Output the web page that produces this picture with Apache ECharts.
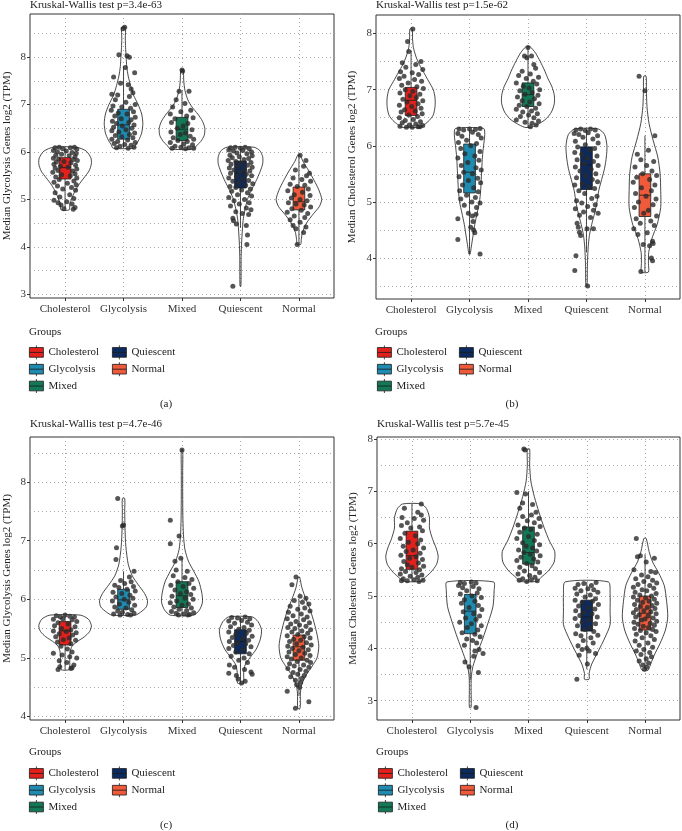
<!DOCTYPE html>
<html>
<head>
<meta charset="utf-8">
<script src="https://cdn.jsdelivr.net/npm/echarts@6/dist/echarts.min.js"></script>
<style>
  html, body { margin: 0; padding: 0; background: #fff; }
  #chart { width: 682px; height: 831px; }
</style>
</head>
<body>
<div id="chart"></div>
<script>
const groups = ['Cholesterol', 'Glycolysis', 'Mixed', 'Quiescent', 'Normal'];
const groupColors = ['#E3211C', '#1F8BB0', '#127857', '#0C2A5E', '#EF5A3B'];
const xTicks = [1, 2, 3, 4, 5];
const panelTags = ['(a)', '(b)', '(c)', '(d)'];
const pValues = ['3.4e-63', '1.5e-62', '4.7e-46', '5.7e-45'];
const yNames = [
  'Median Glycolysis Genes log2 (TPM)',
  'Median Cholesterol Genes log2 (TPM)',
  'Median Glycolysis Genes log2 (TPM)',
  'Median Cholesterol Genes log2 (TPM)'
];
const yRanges = [[2.92, 8.91], [3.27, 8.33], [3.94, 8.77], [2.63, 8.04]];
const yTicks = [[3, 4, 5, 6, 7, 8], [4, 5, 6, 7, 8], [4, 5, 6, 7, 8], [3, 4, 5, 6, 7, 8]];
const yMinorTicks = [[3.5, 4.5, 5.5, 6.5, 7.5, 8.5], [3.5, 4.5, 5.5, 6.5, 7.5], [4.5, 5.5, 6.5, 7.5, 8.5], [3.5, 4.5, 5.5, 6.5, 7.5]];

// boxplot stats per group: [lower whisker, q1, median, q3, upper whisker]
const boxA = [[4.8, 5.43, 5.67, 5.88, 6.1], [6.08, 6.27, 6.57, 6.9, 7.8], [6.06, 6.24, 6.48, 6.73, 7.3], [4.4, 5.24, 5.55, 5.81, 6.1], [4.05, 4.78, 4.95, 5.26, 5.93]];
const boxB = [[6.33, 6.54, 6.81, 7.04, 7.7], [4.07, 5.16, 5.53, 6.03, 6.31], [6.33, 6.7, 6.91, 7.12, 7.76], [4.1, 5.22, 5.66, 5.98, 6.3], [3.75, 4.74, 5.12, 5.5, 6.18]];
const boxC = [[4.8, 5.22, 5.46, 5.62, 5.73], [5.73, 5.83, 5.99, 6.17, 6.48], [5.73, 5.86, 6.06, 6.3, 6.7], [4.57, 5.07, 5.28, 5.48, 5.7], [4.35, 4.96, 5.19, 5.39, 6.0]];
const boxD = [[5.28, 5.51, 5.77, 6.24, 6.76], [3.4, 4.28, 4.71, 5.03, 5.27], [5.28, 5.61, 5.83, 6.32, 7.0], [3.6, 4.33, 4.6, 4.92, 5.27], [3.6, 4.35, 4.67, 5.0, 5.8]];

// violin outlines: [value, half width] from top to bottom
const violinA = [
  [[6.1, 0.2], [6.02, 0.36], [5.88, 0.44], [5.75, 0.45], [5.6, 0.41], [5.45, 0.32], [5.3, 0.23], [5.15, 0.16], [5.0, 0.11], [4.9, 0.08], [4.78, 0.07]],
  [[8.63, 0.03], [8.4, 0.03], [8.2, 0.035], [8.0, 0.045], [7.8, 0.055], [7.6, 0.08], [7.4, 0.12], [7.2, 0.17], [7.0, 0.25], [6.8, 0.31], [6.6, 0.33], [6.4, 0.31], [6.25, 0.26], [6.15, 0.21], [6.08, 0.18]],
  [[7.73, 0.02], [7.5, 0.03], [7.3, 0.05], [7.1, 0.1], [6.95, 0.17], [6.8, 0.27], [6.65, 0.35], [6.5, 0.39], [6.35, 0.38], [6.22, 0.32], [6.12, 0.24], [6.06, 0.2]],
  [[6.1, 0.23], [6.03, 0.33], [5.9, 0.38], [5.75, 0.38], [5.6, 0.34], [5.45, 0.29], [5.3, 0.23], [5.15, 0.17], [5.0, 0.12], [4.8, 0.08], [4.6, 0.05], [4.4, 0.035], [4.1, 0.02], [3.8, 0.012], [3.17, 0.008]],
  [[5.93, 0.02], [5.8, 0.07], [5.6, 0.17], [5.4, 0.26], [5.2, 0.34], [5.0, 0.39], [4.85, 0.35], [4.7, 0.25], [4.5, 0.13], [4.3, 0.06], [4.15, 0.04], [4.05, 0.03]]
];
const violinB = [
  [[8.08, 0.02], [7.9, 0.025], [7.75, 0.04], [7.6, 0.08], [7.45, 0.14], [7.3, 0.22], [7.15, 0.3], [7.0, 0.38], [6.85, 0.41], [6.7, 0.41], [6.55, 0.38], [6.45, 0.31], [6.38, 0.23], [6.33, 0.16]],
  [[6.31, 0.24], [6.2, 0.26], [6.0, 0.24], [5.8, 0.22], [5.6, 0.21], [5.4, 0.2], [5.2, 0.19], [5.0, 0.17], [4.8, 0.13], [4.6, 0.09], [4.4, 0.06], [4.2, 0.03], [4.07, 0.01]],
  [[7.76, 0.04], [7.65, 0.13], [7.5, 0.21], [7.35, 0.28], [7.2, 0.34], [7.05, 0.41], [6.9, 0.45], [6.75, 0.45], [6.6, 0.4], [6.48, 0.31], [6.4, 0.2], [6.33, 0.06]],
  [[6.3, 0.2], [6.2, 0.31], [6.0, 0.35], [5.8, 0.34], [5.6, 0.31], [5.4, 0.26], [5.2, 0.21], [5.0, 0.18], [4.8, 0.14], [4.6, 0.09], [4.4, 0.05], [4.2, 0.03], [4.0, 0.02], [3.8, 0.015], [3.5, 0.01]],
  [[7.24, 0.02], [7.0, 0.025], [6.7, 0.035], [6.4, 0.07], [6.1, 0.14], [5.8, 0.22], [5.5, 0.26], [5.2, 0.27], [4.9, 0.27], [4.6, 0.21], [4.35, 0.12], [4.1, 0.065], [3.9, 0.06], [3.75, 0.06]]
];
const violinC = [
  [[5.73, 0.26], [5.66, 0.4], [5.55, 0.45], [5.45, 0.42], [5.36, 0.33], [5.28, 0.21], [5.2, 0.12], [5.1, 0.085], [5.0, 0.08], [4.9, 0.08], [4.8, 0.07]],
  [[7.72, 0.02], [7.5, 0.02], [7.2, 0.025], [6.9, 0.04], [6.6, 0.08], [6.4, 0.15], [6.25, 0.25], [6.1, 0.36], [5.98, 0.41], [5.87, 0.39], [5.78, 0.29], [5.73, 0.2]],
  [[8.55, 0.012], [8.2, 0.012], [7.8, 0.012], [7.4, 0.015], [7.1, 0.025], [6.85, 0.05], [6.65, 0.11], [6.48, 0.2], [6.3, 0.29], [6.1, 0.34], [5.95, 0.35], [5.82, 0.3], [5.73, 0.2]],
  [[5.7, 0.2], [5.62, 0.3], [5.48, 0.36], [5.32, 0.34], [5.15, 0.27], [5.0, 0.16], [4.88, 0.08], [4.75, 0.055], [4.57, 0.05]],
  [[6.38, 0.012], [6.2, 0.05], [6.0, 0.12], [5.8, 0.2], [5.6, 0.26], [5.4, 0.31], [5.2, 0.34], [5.0, 0.31], [4.85, 0.22], [4.7, 0.12], [4.55, 0.05], [4.4, 0.025], [4.14, 0.02]]
];
const violinD = [
  [[6.76, 0.16], [6.67, 0.25], [6.5, 0.3], [6.3, 0.3], [6.1, 0.35], [5.9, 0.42], [5.75, 0.45], [5.6, 0.42], [5.45, 0.32], [5.34, 0.21], [5.28, 0.15]],
  [[5.27, 0.4], [5.1, 0.41], [4.8, 0.39], [4.5, 0.31], [4.2, 0.22], [3.9, 0.12], [3.65, 0.045], [3.45, 0.018], [3.2, 0.015], [2.87, 0.015]],
  [[7.81, 0.02], [7.5, 0.02], [7.2, 0.04], [6.9, 0.1], [6.6, 0.18], [6.3, 0.27], [6.05, 0.36], [5.85, 0.45], [5.65, 0.44], [5.48, 0.34], [5.35, 0.21], [5.28, 0.15]],
  [[5.27, 0.37], [5.05, 0.4], [4.7, 0.4], [4.45, 0.4], [4.2, 0.31], [3.95, 0.2], [3.7, 0.085], [3.52, 0.04], [3.41, 0.04]],
  [[6.1, 0.02], [5.85, 0.07], [5.65, 0.13], [5.45, 0.23], [5.2, 0.33], [4.9, 0.37], [4.6, 0.39], [4.35, 0.35], [4.1, 0.26], [3.85, 0.15], [3.65, 0.08], [3.58, 0.05]]
];

// jittered samples: [offset from group, value]
const pointsA = [
  [[-0.17,6.09],[-0.1,6.1],[-0.04,6.07],[0.09,6.09],[0.16,6.1],[0.2,6.06],[-0.2,6.03],[-0.13,6.0],[0.02,6.02],[0.12,5.99],[0.19,5.97],[-0.16,5.93],[-0.06,5.95],[0.07,5.92],[0.17,5.9],[-0.2,5.87],[-0.11,5.85],[0.14,5.84],[0.21,5.82],[-0.15,5.79],[-0.02,5.8],[0.1,5.77],[-0.19,5.74],[0.18,5.72],[-0.08,5.7],[0.05,5.68],[-0.17,5.66],[0.2,5.64],[-0.12,5.61],[0.13,5.6],[-0.21,5.57],[0.17,5.54],[-0.06,5.52],[0.09,5.5],[-0.16,5.47],[0.2,5.45],[-0.1,5.42],[0.15,5.39],[-0.19,5.36],[0.04,5.34],[0.19,5.31],[-0.13,5.28],[0.11,5.25],[-0.04,5.22],[0.18,5.19],[-0.17,5.14],[0.08,5.1],[-0.09,5.05],[0.15,5.02],[-0.19,4.98],[-0.12,4.93],[0.03,4.95],[-0.07,4.88],[0.12,4.9],[0.17,4.83],[-0.02,4.8],[0.14,4.79]],
  [[0.02,8.63],[-0.01,8.6],[-0.08,8.05],[0.06,8.03],[0.1,8.0],[0.03,7.78],[0.19,7.67],[-0.17,7.58],[-0.05,7.45],[0.08,7.42],[0.13,7.33],[-0.2,7.22],[-0.1,7.2],[0.1,7.17],[0.16,7.25],[-0.14,7.1],[0.04,7.05],[0.2,7.0],[-0.18,6.97],[-0.03,6.95],[0.12,6.92],[-0.21,6.88],[0.17,6.85],[-0.09,6.82],[0.06,6.8],[-0.15,6.76],[0.2,6.73],[-0.04,6.7],[0.13,6.68],[-0.19,6.65],[0.09,6.62],[-0.12,6.6],[0.18,6.57],[-0.02,6.55],[-0.17,6.52],[0.14,6.5],[0.04,6.47],[-0.2,6.45],[-0.08,6.42],[0.19,6.4],[0.1,6.37],[-0.14,6.35],[-0.03,6.32],[0.16,6.3],[-0.2,6.27],[0.07,6.25],[-0.1,6.22],[0.2,6.2],[-0.16,6.18],[0.02,6.16],[0.13,6.14],[-0.06,6.12],[0.18,6.1],[-0.12,6.09],[0.08,6.08]],
  [[0.0,7.73],[0.01,7.7],[-0.05,7.28],[0.12,7.28],[-0.1,7.1],[0.05,7.02],[-0.16,6.95],[0.15,6.88],[-0.02,6.85],[-0.2,6.8],[0.08,6.76],[0.19,6.72],[-0.12,6.7],[-0.18,6.62],[0.1,6.6],[0.02,6.55],[-0.08,6.5],[0.17,6.47],[-0.19,6.42],[0.06,6.4],[-0.03,6.37],[0.14,6.33],[-0.15,6.3],[0.2,6.27],[-0.07,6.24],[0.09,6.22],[-0.2,6.2],[0.03,6.17],[0.18,6.15],[-0.12,6.12],[-0.02,6.1],[0.12,6.09],[-0.17,6.08],[0.06,6.07],[0.2,6.08]],
  [[-0.17,6.09],[-0.09,6.1],[0.0,6.08],[0.08,6.1],[0.15,6.07],[-0.2,6.04],[-0.12,6.02],[0.04,6.03],[0.19,6.0],[-0.06,5.98],[0.11,5.96],[-0.18,5.93],[0.2,5.92],[-0.02,5.9],[-0.14,5.88],[0.14,5.86],[0.06,5.84],[-0.21,5.82],[-0.08,5.8],[0.18,5.78],[0.01,5.76],[-0.16,5.74],[0.12,5.72],[-0.04,5.7],[0.2,5.68],[-0.19,5.66],[0.07,5.64],[-0.11,5.62],[0.16,5.6],[-0.01,5.58],[-0.17,5.55],[0.1,5.53],[0.19,5.5],[-0.07,5.48],[-0.2,5.45],[0.04,5.43],[0.14,5.4],[-0.13,5.38],[-0.03,5.35],[0.21,5.33],[0.09,5.3],[-0.18,5.27],[-0.08,5.25],[0.17,5.22],[0.02,5.2],[-0.15,5.17],[0.12,5.14],[-0.05,5.1],[0.19,5.07],[-0.2,5.04],[0.07,5.0],[-0.11,4.97],[0.15,4.93],[-0.02,4.9],[-0.17,4.86],[0.1,4.82],[0.18,4.78],[-0.08,4.74],[0.03,4.7],[0.14,4.68],[-0.13,4.6],[-0.12,4.55],[-0.07,4.48],[0.1,4.45],[0.12,4.25],[0.11,4.05],[-0.13,3.17]],
  [[0.02,5.93],[0.12,5.82],[0.08,5.7],[-0.06,5.62],[0.18,5.55],[0.13,5.5],[-0.1,5.45],[0.05,5.42],[0.2,5.38],[-0.15,5.32],[0.1,5.3],[-0.03,5.27],[0.16,5.22],[-0.19,5.18],[0.06,5.15],[-0.08,5.1],[0.19,5.08],[-0.13,5.03],[0.02,5.0],[0.14,4.97],[-0.18,4.93],[-0.05,4.9],[0.09,4.88],[0.2,4.84],[-0.12,4.8],[0.04,4.77],[-0.2,4.73],[0.15,4.7],[-0.08,4.65],[0.1,4.62],[-0.15,4.57],[0.02,4.52],[-0.1,4.45],[0.12,4.42],[-0.05,4.38],[0.08,4.3],[-0.03,4.05]]
];
const pointsB = [
  [[0.03,8.08],[-0.06,7.86],[-0.04,7.68],[0.17,7.5],[-0.15,7.48],[0.08,7.45],[-0.09,7.4],[0.2,7.36],[-0.18,7.32],[0.02,7.3],[0.13,7.27],[-0.12,7.24],[-0.2,7.2],[0.06,7.18],[0.18,7.15],[-0.05,7.12],[-0.16,7.08],[0.1,7.05],[0.21,7.02],[-0.1,7.0],[0.03,6.97],[-0.19,6.94],[0.15,6.92],[-0.02,6.89],[0.09,6.86],[-0.14,6.83],[0.2,6.8],[-0.07,6.78],[0.12,6.75],[-0.2,6.72],[0.01,6.7],[0.17,6.67],[-0.11,6.64],[0.07,6.62],[-0.17,6.6],[0.19,6.57],[-0.04,6.55],[0.11,6.52],[-0.2,6.5],[0.04,6.47],[-0.1,6.45],[0.16,6.43],[-0.15,6.41],[0.08,6.39],[-0.03,6.37],[0.2,6.36],[-0.19,6.35],[0.12,6.34],[-0.08,6.33],[0.02,6.33],[0.15,6.34]],
  [[-0.18,6.3],[-0.1,6.28],[0.0,6.3],[0.1,6.29],[0.18,6.31],[-0.2,6.22],[0.05,6.24],[0.15,6.2],[-0.13,6.17],[0.2,6.14],[-0.05,6.1],[-0.19,6.06],[0.12,6.04],[0.02,6.0],[-0.15,5.95],[0.18,5.9],[-0.08,5.86],[0.09,5.82],[-0.2,5.78],[0.16,5.74],[-0.03,5.7],[-0.14,5.65],[0.11,5.61],[0.2,5.57],[-0.1,5.53],[0.05,5.5],[-0.18,5.45],[0.14,5.42],[-0.02,5.38],[0.19,5.34],[-0.12,5.3],[0.07,5.25],[-0.17,5.2],[0.15,5.18],[-0.05,5.12],[0.1,5.08],[-0.15,5.05],[0.04,5.0],[0.18,4.98],[-0.09,4.94],[0.12,4.9],[-0.02,4.8],[0.11,4.78],[0.05,4.75],[-0.2,4.7],[0.06,4.65],[0.02,4.55],[0.07,4.5],[0.09,4.45],[-0.2,4.33],[0.18,4.07]],
  [[0.0,7.75],[-0.06,7.6],[-0.02,7.57],[0.06,7.6],[0.1,7.45],[-0.1,7.33],[0.13,7.38],[0.04,7.28],[-0.16,7.25],[0.18,7.22],[-0.03,7.2],[0.09,7.15],[-0.2,7.12],[0.15,7.1],[-0.08,7.06],[0.02,7.03],[0.2,7.0],[-0.14,6.98],[0.07,6.95],[-0.05,6.92],[0.17,6.9],[-0.18,6.87],[0.11,6.84],[-0.1,6.8],[0.03,6.78],[0.19,6.75],[-0.15,6.72],[-0.02,6.7],[0.13,6.67],[-0.2,6.65],[0.06,6.62],[-0.09,6.6],[0.16,6.57],[0.01,6.55],[-0.13,6.52],[0.1,6.5],[-0.2,6.46],[0.18,6.44],[-0.05,6.42],[0.07,6.4],[0.14,6.37],[0.04,6.34]],
  [[-0.18,6.28],[-0.1,6.3],[-0.02,6.27],[0.07,6.3],[0.15,6.28],[-0.21,6.22],[-0.13,6.2],[0.03,6.23],[0.19,6.18],[-0.06,6.15],[0.11,6.12],[-0.19,6.08],[0.2,6.05],[-0.02,6.02],[-0.15,5.98],[0.14,5.95],[0.06,5.92],[-0.2,5.88],[-0.08,5.85],[0.18,5.82],[0.01,5.78],[-0.16,5.75],[0.12,5.72],[-0.04,5.68],[0.2,5.65],[-0.19,5.62],[0.08,5.58],[-0.11,5.55],[0.16,5.5],[-0.01,5.47],[-0.17,5.43],[0.1,5.4],[0.19,5.36],[-0.07,5.33],[-0.2,5.3],[0.04,5.27],[0.14,5.24],[-0.13,5.2],[-0.03,5.15],[0.18,5.1],[0.09,5.06],[-0.17,5.02],[-0.08,4.98],[0.15,4.95],[0.02,4.92],[-0.19,4.88],[0.12,4.85],[-0.05,4.82],[0.2,4.8],[-0.12,4.76],[0.07,4.72],[-0.16,4.62],[-0.14,4.55],[0.12,4.52],[-0.12,4.46],[0.01,4.52],[-0.1,4.4],[-0.18,4.04],[-0.2,3.78],[0.02,3.5]],
  [[-0.1,7.24],[0.0,6.98],[0.17,6.18],[0.06,5.92],[-0.13,5.85],[-0.07,5.75],[0.15,5.72],[0.03,5.65],[-0.17,5.62],[0.12,5.55],[-0.04,5.5],[0.2,5.47],[-0.14,5.44],[0.08,5.4],[-0.2,5.35],[0.17,5.3],[-0.06,5.25],[0.11,5.2],[-0.16,5.15],[0.02,5.1],[0.19,5.05],[-0.11,5.0],[0.14,4.95],[-0.18,4.9],[0.06,4.85],[-0.02,4.8],[0.2,4.75],[-0.15,4.7],[0.1,4.66],[-0.08,4.62],[0.16,4.58],[-0.19,4.52],[0.04,4.45],[-0.12,4.42],[0.13,4.3],[-0.03,4.24],[0.08,4.22],[0.14,4.26],[0.11,4.0],[0.13,3.95],[-0.07,3.76]]
];
const pointsC = [
  [[-0.15,5.72],[-0.08,5.7],[0.0,5.73],[0.08,5.71],[0.16,5.7],[-0.2,5.66],[-0.04,5.67],[0.12,5.65],[0.2,5.62],[-0.12,5.6],[0.05,5.58],[-0.18,5.55],[0.17,5.53],[-0.06,5.5],[0.1,5.48],[-0.2,5.46],[0.02,5.45],[0.19,5.43],[-0.1,5.41],[0.13,5.39],[-0.16,5.36],[0.07,5.34],[-0.03,5.31],[0.18,5.3],[-0.13,5.27],[0.1,5.24],[-0.07,5.2],[0.04,5.15],[0.12,5.1],[-0.2,5.08],[-0.05,5.05],[0.08,5.02],[0.2,5.0],[-0.1,4.95],[0.03,4.92],[0.15,4.88],[-0.09,4.85],[0.1,4.82],[-0.12,4.8],[0.12,4.83]],
  [[-0.1,7.72],[0.0,7.27],[-0.02,7.25],[-0.12,6.88],[-0.13,6.68],[0.18,6.48],[0.1,6.38],[-0.05,6.32],[0.13,6.3],[0.02,6.27],[-0.15,6.24],[0.17,6.22],[-0.08,6.2],[0.06,6.17],[0.2,6.14],[-0.18,6.12],[-0.03,6.1],[0.11,6.07],[-0.13,6.04],[0.16,6.02],[0.01,6.0],[-0.19,5.97],[0.09,5.95],[-0.07,5.92],[0.19,5.9],[-0.15,5.87],[0.04,5.85],[0.14,5.82],[-0.1,5.8],[-0.02,5.78],[0.18,5.76],[-0.17,5.75],[0.07,5.74],[0.12,5.73],[-0.06,5.73]],
  [[0.0,8.55],[-0.2,7.35],[-0.05,7.08],[-0.2,6.95],[-0.12,6.65],[-0.02,6.7],[-0.1,6.5],[0.09,6.48],[-0.15,6.4],[0.05,6.37],[0.17,6.34],[-0.07,6.3],[0.12,6.27],[-0.19,6.24],[0.02,6.22],[0.2,6.19],[-0.12,6.16],[0.08,6.13],[-0.03,6.1],[0.15,6.08],[-0.17,6.05],[0.05,6.02],[0.19,6.0],[-0.09,5.97],[-0.2,5.94],[0.11,5.92],[0.0,5.9],[-0.14,5.87],[0.16,5.85],[-0.05,5.83],[0.08,5.81],[-0.18,5.79],[0.2,5.77],[-0.1,5.76],[0.03,5.75],[0.13,5.74],[-0.06,5.73],[0.1,5.73]],
  [[-0.15,5.69],[-0.05,5.68],[0.08,5.7],[0.16,5.67],[-0.2,5.63],[0.02,5.64],[0.12,5.61],[-0.1,5.59],[0.19,5.56],[-0.17,5.53],[0.06,5.52],[-0.03,5.49],[0.15,5.47],[-0.2,5.44],[0.1,5.42],[-0.08,5.4],[0.2,5.37],[-0.14,5.35],[0.03,5.33],[0.14,5.3],[-0.19,5.28],[-0.05,5.26],[0.09,5.24],[-0.12,5.21],[0.18,5.19],[-0.2,5.16],[0.04,5.14],[-0.08,5.1],[0.15,5.07],[-0.16,5.03],[0.06,5.0],[-0.03,4.96],[0.12,4.92],[-0.19,4.88],[-0.1,4.84],[0.07,4.8],[0.18,4.76],[-0.2,4.74],[-0.07,4.7],[0.2,4.72],[-0.04,4.64],[0.08,4.6],[0.02,4.57]],
  [[-0.05,6.38],[-0.12,6.25],[0.02,6.05],[0.12,6.02],[-0.08,5.98],[0.06,5.95],[0.17,5.92],[-0.15,5.88],[0.1,5.85],[-0.02,5.83],[0.19,5.8],[-0.18,5.78],[0.04,5.75],[-0.1,5.72],[0.14,5.7],[-0.2,5.67],[0.08,5.65],[-0.05,5.62],[0.18,5.6],[-0.14,5.58],[0.01,5.56],[0.12,5.54],[-0.19,5.52],[-0.07,5.5],[0.2,5.48],[0.05,5.46],[-0.12,5.44],[0.15,5.42],[-0.02,5.4],[-0.2,5.38],[0.09,5.36],[0.19,5.34],[-0.09,5.32],[0.03,5.3],[-0.16,5.28],[0.13,5.26],[-0.04,5.24],[0.21,5.22],[-0.19,5.2],[0.07,5.18],[-0.11,5.16],[0.16,5.14],[0.0,5.12],[-0.17,5.1],[0.1,5.08],[-0.06,5.06],[0.19,5.04],[-0.2,5.02],[0.04,5.0],[-0.13,4.98],[0.14,4.96],[-0.03,4.94],[0.2,4.92],[-0.16,4.9],[0.08,4.88],[-0.08,4.86],[0.17,4.84],[-0.19,4.82],[0.02,4.8],[0.12,4.77],[-0.1,4.75],[-0.02,4.72],[0.09,4.7],[-0.14,4.68],[0.05,4.65],[-0.06,4.62],[0.03,4.58],[-0.04,4.54],[0.01,4.5],[-0.2,4.43],[0.17,4.25],[-0.06,4.14]]
];
const pointsD = [
  [[0.16,6.76],[-0.13,6.68],[0.1,6.6],[0.16,6.55],[-0.17,6.5],[0.04,6.48],[0.2,6.45],[-0.08,6.4],[-0.18,6.35],[0.13,6.32],[-0.02,6.3],[0.18,6.25],[-0.12,6.2],[0.06,6.15],[-0.2,6.1],[0.15,6.07],[-0.06,6.03],[0.1,6.0],[-0.15,5.95],[0.2,5.92],[0.02,5.88],[-0.1,5.85],[0.14,5.82],[-0.19,5.78],[0.07,5.75],[-0.04,5.72],[0.18,5.7],[-0.14,5.66],[0.11,5.63],[-0.08,5.6],[0.2,5.57],[0.0,5.55],[-0.18,5.52],[0.13,5.5],[-0.11,5.47],[0.07,5.45],[-0.2,5.42],[0.17,5.4],[-0.03,5.38],[0.1,5.36],[-0.15,5.33],[0.04,5.31],[0.19,5.3],[-0.08,5.29],[-0.18,5.29],[0.12,5.28]],
  [[-0.17,5.26],[-0.1,5.24],[0.02,5.27],[0.1,5.25],[-0.2,5.2],[-0.13,5.16],[0.05,5.18],[0.15,5.14],[-0.06,5.1],[0.12,5.06],[-0.17,5.04],[0.03,5.0],[0.19,4.97],[-0.1,4.93],[0.08,4.9],[-0.15,4.86],[0.14,4.82],[-0.02,4.78],[0.2,4.74],[-0.12,4.7],[0.06,4.66],[0.16,4.62],[-0.08,4.58],[0.1,4.55],[-0.18,4.5],[0.02,4.47],[0.19,4.43],[-0.05,4.4],[0.13,4.35],[-0.14,4.3],[0.08,4.27],[0.17,4.22],[-0.06,4.18],[0.04,4.15],[0.11,4.1],[-0.1,4.06],[0.15,3.98],[0.08,3.95],[0.22,3.9],[0.06,3.85],[-0.09,3.74],[-0.02,3.65],[0.14,3.54],[0.1,2.87]],
  [[-0.08,7.81],[-0.06,7.79],[-0.2,6.98],[-0.05,6.95],[-0.1,6.78],[0.07,6.75],[-0.15,6.68],[0.13,6.6],[0.05,6.55],[-0.1,6.52],[0.18,6.48],[-0.02,6.44],[0.1,6.4],[-0.18,6.36],[0.2,6.33],[-0.07,6.3],[0.04,6.27],[-0.15,6.22],[0.15,6.18],[0.0,6.14],[-0.2,6.1],[0.1,6.06],[-0.1,6.02],[0.19,5.98],[-0.04,5.95],[0.07,5.92],[-0.17,5.88],[0.14,5.86],[-0.08,5.83],[0.03,5.8],[0.2,5.77],[-0.13,5.74],[0.09,5.71],[-0.2,5.68],[0.16,5.65],[-0.03,5.62],[0.06,5.58],[-0.15,5.55],[0.12,5.52],[-0.07,5.48],[0.19,5.45],[-0.18,5.42],[0.02,5.39],[0.11,5.36],[-0.1,5.33],[0.05,5.31],[-0.16,5.3],[0.15,5.29],[-0.03,5.28]],
  [[-0.15,5.22],[-0.05,5.24],[0.08,5.2],[0.16,5.26],[-0.2,5.15],[0.02,5.14],[0.12,5.12],[-0.1,5.1],[0.19,5.07],[-0.17,5.04],[0.06,5.02],[-0.03,4.98],[0.15,4.95],[-0.2,4.92],[0.1,4.9],[-0.08,4.87],[0.2,4.84],[-0.14,4.81],[0.03,4.78],[0.14,4.75],[-0.19,4.72],[-0.05,4.69],[0.09,4.66],[-0.12,4.63],[0.18,4.6],[-0.2,4.57],[0.04,4.54],[-0.08,4.5],[0.15,4.47],[-0.16,4.43],[0.06,4.4],[-0.03,4.36],[0.12,4.32],[-0.19,4.28],[-0.1,4.24],[0.19,4.25],[0.07,4.2],[-0.06,4.15],[0.11,4.1],[-0.15,4.05],[0.0,4.0],[-0.13,3.87],[0.04,3.95],[0.15,3.9],[-0.08,3.98],[0.01,3.7],[-0.17,3.41]],
  [[-0.15,6.1],[-0.08,5.77],[-0.13,5.75],[0.16,5.72],[0.02,5.65],[-0.19,5.5],[0.1,5.47],[0.18,5.45],[-0.06,5.4],[0.05,5.37],[-0.16,5.33],[0.13,5.3],[-0.02,5.28],[0.2,5.25],[-0.12,5.22],[0.08,5.2],[-0.2,5.17],[0.15,5.15],[-0.05,5.12],[0.03,5.1],[-0.17,5.07],[0.19,5.05],[-0.09,5.02],[0.11,5.0],[-0.2,4.98],[0.01,4.96],[0.16,4.94],[-0.13,4.92],[0.07,4.9],[-0.04,4.88],[0.2,4.86],[-0.18,4.84],[0.12,4.82],[-0.08,4.8],[0.04,4.78],[0.17,4.76],[-0.15,4.74],[-0.02,4.72],[0.1,4.7],[-0.2,4.68],[0.19,4.66],[-0.1,4.64],[0.05,4.62],[-0.16,4.6],[0.14,4.58],[0.0,4.56],[-0.06,4.54],[0.2,4.52],[-0.19,4.5],[0.09,4.48],[-0.12,4.46],[0.16,4.44],[-0.03,4.42],[0.06,4.4],[-0.18,4.38],[0.13,4.36],[-0.08,4.34],[0.19,4.32],[0.02,4.3],[-0.15,4.27],[0.1,4.24],[-0.05,4.2],[0.16,4.17],[-0.17,4.14],[0.05,4.1],[-0.1,4.06],[0.13,4.02],[-0.02,3.98],[-0.15,3.95],[0.08,3.92],[-0.07,3.88],[0.11,3.84],[0.02,3.8],[-0.1,3.76],[0.06,3.72],[-0.04,3.68],[0.03,3.64],[-0.01,3.6]]
];

const boxes = [boxA, boxB, boxC, boxD];
const violins = [violinA, violinB, violinC, violinD];
const points = [pointsA, pointsB, pointsC, pointsD];

// panel placement in the 682x831 page
const grids = [
  { left: 30, top: 14, width: 304, height: 284 },
  { left: 376, top: 15, width: 304, height: 284 },
  { left: 30, top: 437, width: 304, height: 283 },
  { left: 377, top: 437, width: 303, height: 283 }
];
const nameGaps = [17, 18, 17, 18];
const legendCols = [[29, 112], [377, 459], [29, 112], [378, 460]];
const legendTops = [345, 345, 766, 766];
const captionX = [166, 512, 166, 512];

const FONT = "'Liberation Serif', 'DejaVu Serif', serif";
const INK = '#1a1a1a';
const dotted = { type: [1, 3], color: '#a8a8a8', width: 1 };
const keyIcon = 'path://M0,2H13V11H0Z M0,6.5H13 M6.5,0V2 M6.5,11V13';

function violinItem(k) {
  return function (params, api) {
    const prof = violins[k][params.dataIndex];
    const cx = params.dataIndex + 1;
    const right = prof.map(r => api.coord([cx + r[1], r[0]]));
    const left = prof.map(r => api.coord([cx - r[1], r[0]])).reverse();
    return {
      type: 'polygon',
      shape: { points: right.concat(left), smooth: 0.25 },
      style: { fill: 'none', stroke: INK, lineWidth: 0.8 }
    };
  };
}

function boxItem(params, api) {
  const x = api.value(0);
  const lo = api.coord([x, api.value(1)]);
  const q1 = api.coord([x, api.value(2)]);
  const md = api.coord([x, api.value(3)]);
  const q3 = api.coord([x, api.value(4)]);
  const hi = api.coord([x, api.value(5)]);
  const half = api.size([0.1, 0])[0];
  const line = { stroke: INK, lineWidth: 0.8 };
  return {
    type: 'group',
    children: [
      { type: 'line', shape: { x1: lo[0], y1: lo[1], x2: q1[0], y2: q1[1] }, style: line },
      { type: 'line', shape: { x1: q3[0], y1: q3[1], x2: hi[0], y2: hi[1] }, style: line },
      { type: 'rect', shape: { x: q3[0] - half, y: q3[1], width: half * 2, height: q1[1] - q3[1] },
        style: { fill: api.visual('color'), stroke: INK, lineWidth: 0.8 } },
      { type: 'line', shape: { x1: md[0] - half, y1: md[1], x2: md[0] + half, y2: md[1] }, style: line }
    ]
  };
}

const option = {
  animation: false,
  backgroundColor: '#fff',
  title: [],
  legend: [],
  grid: [],
  xAxis: [],
  yAxis: [],
  series: []
};

const textBase = { fontFamily: FONT, fontSize: 11, fontWeight: 'normal', color: '#222' };

for (let k = 0; k < 4; k++) {
  const g = grids[k];
  const upper = k < 2;
  option.grid.push(Object.assign({ show: true, borderColor: '#333', borderWidth: 1, backgroundColor: 'transparent' }, g));

  option.title.push({ text: 'Kruskal-Wallis test p=' + pValues[k], left: g.left, top: upper ? 0 : 419, padding: 0, textStyle: textBase });
  option.title.push({ text: 'Groups', left: g.left - 1, top: upper ? 327 : 747, padding: 0, textStyle: textBase });
  option.title.push({ text: panelTags[k], left: captionX[k], top: upper ? 399 : 820, textAlign: 'center', padding: 0, textStyle: textBase });

  option.xAxis.push({
    gridIndex: k, type: 'value', min: 0.4, max: 5.6,
    axisLine: { show: false },
    axisTick: { customValues: xTicks, length: 3, lineStyle: { color: '#333' } },
    axisLabel: { customValues: xTicks, formatter: v => groups[Math.round(v) - 1], margin: 6, fontFamily: FONT, fontSize: 11, color: '#333' },
    splitLine: { show: true, lineStyle: dotted }
  });
  option.yAxis.push({
    gridIndex: k, type: 'value', min: yRanges[k][0], max: yRanges[k][1],
    name: yNames[k], nameLocation: 'middle', nameGap: nameGaps[k], nameRotate: 90,
    nameTextStyle: { fontFamily: FONT, fontSize: 11, color: '#222' },
    axisLine: { show: false },
    axisTick: { customValues: yTicks[k], length: 3, lineStyle: { color: '#333' } },
    axisLabel: { customValues: yTicks[k], margin: 4, fontFamily: FONT, fontSize: 11, color: '#333' },
    splitLine: { show: true, lineStyle: dotted }
  });
  option.yAxis.push({
    gridIndex: k, type: 'value', min: yRanges[k][0], max: yRanges[k][1], position: 'left',
    axisLine: { show: false },
    axisTick: { show: false, customValues: yMinorTicks[k] },
    axisLabel: { show: false },
    splitLine: { show: true, lineStyle: dotted }
  });

  const legendBase = {
    orient: 'vertical', top: legendTops[k], padding: 0, itemGap: 2, itemWidth: 14, itemHeight: 14,
    icon: keyIcon, selectedMode: false,
    itemStyle: { borderColor: INK, borderWidth: 0.8 },
    textStyle: { fontFamily: FONT, fontSize: 11, color: '#222' }
  };
  option.legend.push(Object.assign({}, legendBase, { left: legendCols[k][0], data: groups.slice(0, 3) }));
  option.legend.push(Object.assign({}, legendBase, { left: legendCols[k][1], data: groups.slice(3) }));

  option.series.push({
    type: 'custom', name: 'violin', xAxisIndex: k, yAxisIndex: 2 * k, silent: true, z: 1,
    renderItem: violinItem(k),
    data: groups.map((n, i) => [i + 1, boxes[k][i][2]])
  });

  groups.forEach((name, i) => {
    option.series.push({
      type: 'custom', name: name, xAxisIndex: k, yAxisIndex: 2 * k, silent: true, z: 2,
      itemStyle: { color: groupColors[i] },
      renderItem: boxItem,
      encode: { x: 0, y: [1, 2, 3, 4, 5] },
      data: [[i + 1].concat(boxes[k][i])]
    });
  });

  const dots = [];
  points[k].forEach((grp, i) => grp.forEach(p => dots.push([i + 1 + p[0], p[1]])));
  option.series.push({
    type: 'scatter', name: 'samples', xAxisIndex: k, yAxisIndex: 2 * k, silent: true, z: 3,
    symbolSize: 5,
    itemStyle: { color: '#2a2a2a', opacity: 0.8 },
    data: dots
  });
}

const chart = echarts.init(document.getElementById('chart'));
chart.setOption(option);
</script>
</body>
</html>
